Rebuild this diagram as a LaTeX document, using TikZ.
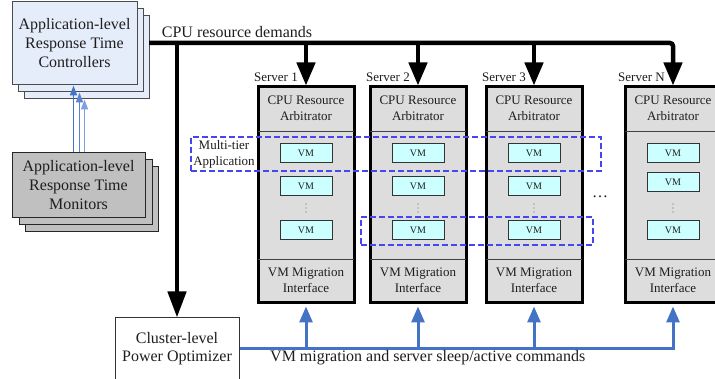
\documentclass[tikz,border=0pt]{standalone}
\usepackage{fontspec}
\setmainfont{Liberation Serif}
\usetikzlibrary{arrows.meta,calc}
\definecolor{ctrlfill}{RGB}{230,237,250}
\definecolor{monfill}{RGB}{192,192,192}
\definecolor{srvfill}{RGB}{221,221,221}
\definecolor{vmfill}{RGB}{204,255,255}
\definecolor{cmdblue}{RGB}{68,114,196}
\definecolor{cmdblueB}{RGB}{90,130,210}
\definecolor{cmdblueC}{RGB}{125,160,225}
\definecolor{dashblue}{RGB}{70,70,240}
\definecolor{txt}{RGB}{30,30,30}
\newcommand\fsz[2]{\fontsize{#1}{#2}\selectfont}
\tikzset{
  ctrlbox/.style={draw=black!70, fill=ctrlfill, line width=1pt, minimum width=125pt, minimum height=83pt, inner sep=0pt, align=center, font=\fsz{16}{19}, text=txt},
  monbox/.style={draw=black!85, fill=monfill, line width=1pt, minimum width=133pt, minimum height=65pt, inner sep=0pt, align=center, font=\fsz{16}{19}, text=txt},
  srvbox/.style={draw=black, fill=srvfill, line width=3pt, minimum width=96pt, minimum height=216pt, inner sep=0pt},
  seclbl/.style={inner sep=0pt, align=center, font=\fsz{13}{16}, text=txt},
  sepline/.style={draw=black!75, line width=1pt},
  vmbox/.style={draw=black!80, fill=vmfill, line width=1pt, minimum width=52pt, minimum height=19pt, inner sep=0pt, font=\fsz{10}{12}, text=txt},
  vdot/.style={fill=black!60, draw=none},
  srvlbl/.style={inner sep=0pt, font=\fsz{13}{15}, text=txt, anchor=base east},
  bus/.style={draw=black, line width=4.5pt},
  busarrow/.style={bus, -{Triangle[width=18pt,length=23pt]}},
  cmdline/.style={draw=cmdblue, line width=3pt},
  cmdarrow/.style={cmdline, -{Triangle[width=13pt,length=16pt]}},
  thinarrow/.style={line width=1.6pt, -{Triangle[width=7pt,length=10pt]}},
  dashbox/.style={draw=dashblue, line width=1.3pt, dash pattern=on 6pt off 3pt, minimum width=#1, inner sep=0pt},
  optbox/.style={draw=black!80, fill=white, line width=1pt, minimum width=124pt, minimum height=62pt, inner sep=0pt, align=center, font=\fsz{16}{18}, text=txt},
  plaintext/.style={inner sep=0pt, font=\fsz{16}{19}, text=txt}
}
\begin{document}
\begin{tikzpicture}[x=1pt,y=-1pt]
\useasboundingbox (0,0) rectangle (715,379);
\fill[white] (0,0) rectangle (715,379);

% controllers stack
\node[ctrlbox] (ctrl3) at (86.5,57.5) {};
\node[ctrlbox] (ctrl2) at (80.5,50.5) {};
\node[ctrlbox] (ctrl) at (74.5,43.5) {Application-level\\Response Time\\Controllers};

% monitors stack
\node[monbox] (mon3) at (91.5,199.5) {};
\node[monbox] (mon2) at (85.5,192.5) {};
\node[monbox] (mon) at (78.5,185.5) {Application-level\\Response Time\\Monitors};

% thin blue arrows
\coordinate (m1) at ($(mon.north west)+(62,0)$);
\coordinate (m2) at ($(mon.north west)+(68,0)$);
\coordinate (m3) at ($(mon.north west)+(73,0)$);
\draw[thinarrow, draw=cmdblue, fill=cmdblue] (m1) -- (m1 |- ctrl.south);
\draw[thinarrow, draw=cmdblueB, fill=cmdblue] (m2) -- (m2 |- ctrl2.south);
\draw[thinarrow, draw=cmdblueC, fill=cmdblue] (m3) -- (m3 |- ctrl3.south);

% servers
\foreach \n/\cx/\vy/\lbl in {s1/306/186/Server 1, s2/418/186/Server 2, s3/534/186/Server 3, sN/673/182.5/Server N}{
  \node[srvbox] (\n) at (\cx,195) {};
  \draw[sepline] ($(\n.north west)+(1.5,46)$) -- ($(\n.north east)+(-1.5,46)$);
  \draw[sepline] ($(\n.south west)+(1.5,-45)$) -- ($(\n.south east)+(-1.5,-45)$);
  \node[seclbl] (\n arb) at (\cx,108.5) {CPU Resource\\Arbitrator};
  \node[seclbl] (\n mig) at (\cx,280.5) {VM Migration\\Interface};
  \node[vmbox] (\n vm1) at (\cx,153.5) {VM};
  \node[vmbox] (\n vm2) at (\cx,\vy) {VM};
  \fill[vdot] (\cx,204) circle (0.6) (\cx,208) circle (0.6) (\cx,212) circle (0.6);
  \node[vmbox] (\n vm3) at (\cx,230) {VM};
  \node[srvlbl] (\n lbl) at (\cx-8,82) {\lbl};
}

% dashed application groups
\node[dashbox=410pt, minimum height=34pt] (app1) at (396,154) {};
\node[dashbox=232pt, minimum height=28pt] (app2) at (477,231) {};
\node[seclbl] (apptxt) at (224,154.5) {Multi-tier\\Application};

% ellipsis between servers
\node[plaintext] (more) at (600,197) {\ldots};

% CPU resource demands bus
\coordinate (busL) at (149,43);
\draw[busarrow, rounded corners=3pt] (busL) -- (sN.north |- busL) -- (sN.north);
\draw[busarrow] (s1.north |- busL) -- (s1.north);
\draw[busarrow] (s2.north |- busL) -- (s2.north);
\draw[busarrow] (s3.north |- busL) -- (s3.north);
\node[plaintext, anchor=base] (cpudem) at (237,38) {CPU resource demands};

% optimizer
\node[optbox] (opt) at (177,349) {Cluster-level\\Power Optimizer};
\draw[bus, -{Triangle[width=18pt,length=26pt]}] (opt.north |- busL) -- (opt.north);

% command bus
\coordinate (c1) at ($(s1.south)+(0,2)$);
\coordinate (c2) at ($(s2.south)+(0,2)$);
\coordinate (c3) at ($(s3.south)+(0,2)$);
\coordinate (cN) at ($(sN.south)+(0,2)$);
\draw[cmdarrow] (opt.east) -- (cN |- opt.east) -- (cN);
\draw[cmdarrow] (c1 |- opt.east) -- (c1);
\draw[cmdarrow] (c2 |- opt.east) -- (c2);
\draw[cmdarrow] (c3 |- opt.east) -- (c3);
\node[plaintext, anchor=base west] (cmdtxt) at (270,362) {VM migration and server sleep/active commands};
\end{tikzpicture}
\end{document}
